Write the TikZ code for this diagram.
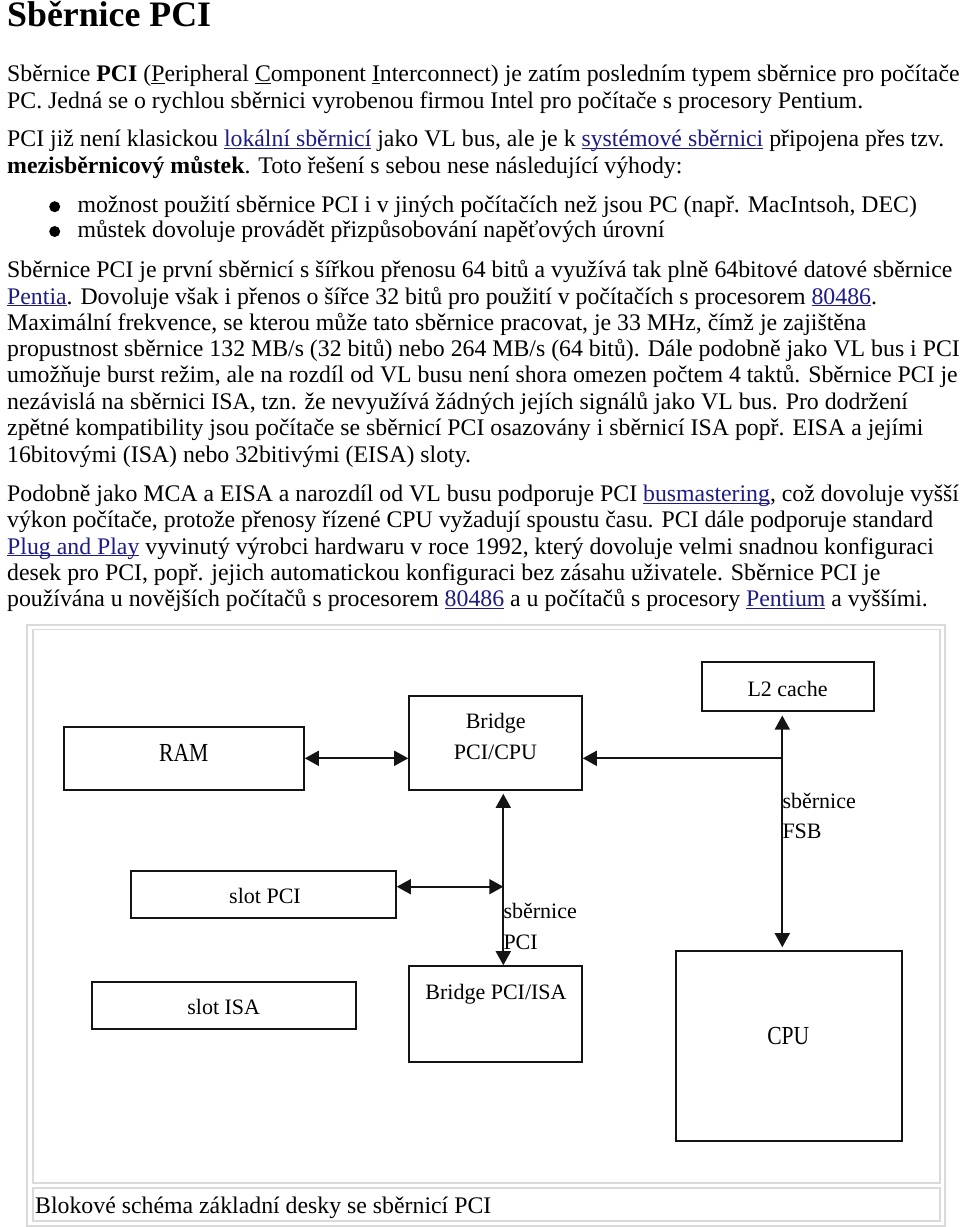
\documentclass[tikz,border=0pt]{standalone}
\usepackage{fontspec}
\setmainfont{Liberation Serif}
\usetikzlibrary{arrows.meta}
\definecolor{linkblue}{RGB}{28,28,132}
\definecolor{framegray}{RGB}{218,218,218}
\definecolor{ink}{RGB}{20,20,20}
\newcommand\lnk[1]{{\color{linkblue}\setbox0\hbox{#1}\rlap{\rule[-2.4pt]{\wd0}{1.1pt}}\box0}}
\newcommand\ulpart[1]{{\setbox0\hbox{#1}\rlap{\rule[-2.4pt]{\wd0}{1.1pt}}\box0}}
\tikzset{
  txt/.style={anchor=base west, inner sep=0pt, font=\fontsize{23.8}{26}\selectfont},
  box/.style={draw=ink, line width=1.6pt, inner sep=0pt},
  lbl/.style={anchor=base, inner sep=0pt, font=\fontsize{22}{24}\selectfont},
  sidelbl/.style={anchor=base west, inner sep=0pt, font=\fontsize{22}{24}\selectfont},
  conn/.style={draw=ink, line width=1.7pt},
  bul/.style={circle, fill=black, inner sep=0pt, minimum size=11pt},
  >={Triangle[length=14pt,width=15pt]}
}
\begin{document}
\begin{tikzpicture}[x=1pt,y=-1pt]
\fill[white] (0,0) rectangle (960,1227);
\useasboundingbox (0,0) rectangle (960,1227);

% ---------- text ----------
\node[anchor=base west, inner sep=0pt, font=\bfseries\fontsize{35.8}{38}\selectfont] (title) at (7,26) {Sběrnice PCI};

\node[txt] (p1a) at (7,81.5) {Sběrnice \textbf{PCI} (\ulpart{P}eripheral \ulpart{C}omponent \ulpart{I}nterconnect) je zatím posledním typem sběrnice pro počítače};
\node[txt] (p1b) at (7,108.3) {PC. Jedná se o rychlou sběrnici vyrobenou firmou Intel pro počítače s procesory Pentium.};

\node[txt] (p2a) at (7,146.7) {PCI již není klasickou \lnk{lokální sběrnicí} jako VL bus, ale je k \lnk{systémové sběrnici} připojena přes tzv.};
\node[txt] (p2b) at (7,173.3) {\textbf{mezisběrnicový můstek}. Toto řešení s sebou nese následující výhody:};

\node[bul] (b1) at (54.7,206.7) {};
\node[bul] (b2) at (54.7,231.5) {};
\node[txt] (l1) at (77.3,212.5) {možnost použití sběrnice PCI i v jiných počítačích než jsou PC (např. MacIntsoh, DEC)};
\node[txt] (l2) at (77.3,237.5) {můstek dovoluje provádět přizpůsobování napěťových úrovní};

\node[txt] (p3a) at (7,277.3) {Sběrnice PCI je první sběrnicí s šířkou přenosu 64 bitů a využívá tak plně 64bitové datové sběrnice};
\node[txt] (p3b) at (7,304) {\lnk{Pentia}. Dovoluje však i přenos o šířce 32 bitů pro použití v počítačích s procesorem \lnk{80486}.};
\node[txt] (p3c) at (7,330) {Maximální frekvence, se kterou může tato sběrnice pracovat, je 33 MHz, čímž je zajištěna};
\node[txt] (p3d) at (7,356.7) {propustnost sběrnice 132 MB/s (32 bitů) nebo 264 MB/s (64 bitů). Dále podobně jako VL bus i PCI};
\node[txt] (p3e) at (7,382.7) {umožňuje burst režim, ale na rozdíl od VL busu není shora omezen počtem 4 taktů. Sběrnice PCI je};
\node[txt] (p3f) at (7,409.3) {nezávislá na sběrnici ISA, tzn. že nevyužívá žádných jejích signálů jako VL bus. Pro dodržení};
\node[txt] (p3g) at (7,435.3) {zpětné kompatibility jsou počítače se sběrnicí PCI osazovány i sběrnicí ISA popř. EISA a jejími};
\node[txt] (p3h) at (7,462) {16bitovými (ISA) nebo 32bitivými (EISA) sloty.};

\node[txt] (p4a) at (7,501.7) {Podobně jako MCA a EISA a narozdíl od VL busu podporuje PCI \lnk{busmastering}, což dovoluje vyšší};
\node[txt] (p4b) at (7,527.7) {výkon počítače, protože přenosy řízené CPU vyžadují spoustu času. PCI dále podporuje standard};
\node[txt] (p4c) at (7,554) {\lnk{Plug and Play} vyvinutý výrobci hardwaru v roce 1992, který dovoluje velmi snadnou konfiguraci};
\node[txt] (p4d) at (7,580) {desek pro PCI, popř. jejich automatickou konfiguraci bez zásahu uživatele. Sběrnice PCI je};
\node[txt] (p4e) at (7,606.7) {používána u novějších počítačů s procesorem \lnk{80486} a u počítačů s procesory \lnk{Pentium} a vyššími.};

% ---------- frame ----------
\draw[framegray, line width=1.4pt] (27,625) rectangle (945,1226);
\draw[framegray, line width=1.4pt] (33,629.5) rectangle (940,1183);
\draw[framegray, line width=1.4pt] (33,1188) rectangle (940,1221);
\node[txt] (caption) at (35,1213.3) {Blokové schéma základní desky se sběrnicí PCI};

% ---------- boxes ----------
\node[box, minimum width=240pt, minimum height=63pt] (ram) at (184,758.5) {};
\node[box, minimum width=173pt, minimum height=94pt] (bcpu) at (495.5,743) {};
\node[box, minimum width=172pt, minimum height=48.5pt] (l2) at (788,686.5) {};
\node[box, minimum width=265pt, minimum height=47pt] (spci) at (263.5,894.5) {};
\node[box, minimum width=264pt, minimum height=47pt] (sisa) at (224,1005.5) {};
\node[box, minimum width=173pt, minimum height=96pt] (bisa) at (495.5,1014) {};
\node[box, minimum width=226pt, minimum height=190pt] (cpu) at (789,1046) {};

% ---------- box labels ----------
\node[anchor=base, inner sep=0pt, font=\fontsize{26}{28}\selectfont] (ramt) at (183.7,761.7) {\scalebox{0.83}[1]{RAM}};
\node[lbl] (bcpu1) at (495.7,728.3) {Bridge};
\node[lbl] (bcpu2) at (495.5,759.5) {PCI/CPU};
\node[lbl] (l2t) at (787.5,696.7) {L2 cache};
\node[lbl] (spcit) at (265,903.3) {slot PCI};
\node[lbl] (sisat) at (223.7,1014.3) {slot ISA};
\node[lbl] (bisat) at (496,999) {Bridge PCI/ISA};
\node[anchor=base, inner sep=0pt, font=\fontsize{26}{28}\selectfont] (cput) at (788.3,1044) {\scalebox{0.83}[1]{CPU}};

% ---------- connectors ----------
\coordinate (fsbx) at (782.3,758.3);
\coordinate (pcix) at (503.3,886.7);
\draw[conn,<->] (ram.east |- fsbx) -- (bcpu.west |- fsbx);
\draw[conn,<->] ([yshift=-4pt]l2.south -| fsbx) -- ([yshift=3pt]cpu.north -| fsbx);
\draw[conn,->] (fsbx) -- (bcpu.east |- fsbx);
\draw[conn,<->] ([yshift=-3pt]bcpu.south -| pcix) -- (bisa.north -| pcix);
\draw[conn,<->] (spci.east |- pcix) -- (pcix);

\node[sidelbl] (fsb1) at (782.3,808.3) {sběrnice};
\node[sidelbl] (fsb2) at (782.3,838.3) {FSB};
\node[sidelbl] (pci1) at (503.3,918.3) {sběrnice};
\node[sidelbl] (pci2) at (503.3,949.3) {PCI};
\end{tikzpicture}
\end{document}
